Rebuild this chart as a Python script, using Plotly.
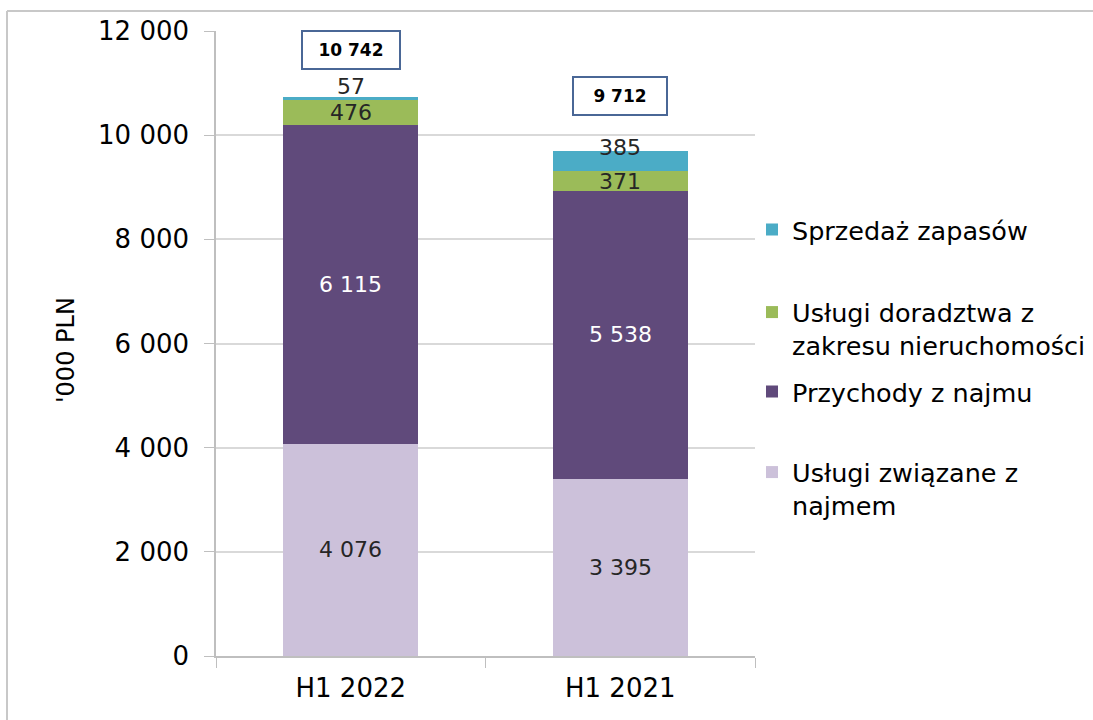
import plotly.graph_objects as go
import numpy as np

categories = ["H1 2022", "H1 2021"]
series_names = [
    "Usługi związane z<br>najmem",
    "Przychody z najmu",
    "Usługi doradztwa z<br>zakresu nieruchomości",
    "Sprzedaż zapasów",
]
uslugi_zwiazane = [4076, 3395]
przychody_najmu = [6115, 5538]
uslugi_doradztwa = [476, 371]
sprzedaz_zapasow = [57, 385]
totals = [10742, 9712]
total_labels = ["10 742", "9 712"]
tick_vals = [0, 2000, 4000, 6000, 8000, 10000, 12000]
tick_labels = ["0", "2 000", "4 000", "6 000", "8 000", "10 000", "12 000"]

series_values = [uslugi_zwiazane, przychody_najmu, uslugi_doradztwa, sprzedaz_zapasow]
colors = ["#ccc1da", "#604a7b", "#9bbb59", "#4bacc6"]
label_colors = ["#262626", "#ffffff", "#262626", "#262626"]
FONT = "DejaVu Sans"

W, H = 1093, 720
L, R, T, B = 216, 1093 - 755, 31, 64
plot_h = H - T - B
plot_w = W - L - R

def fmt(v):
    return f"{v:,}".replace(",", " ")

fig = go.Figure()
legend_names = ["legend4", "legend3", "legend2", "legend"]
for name, vals, col, lg in zip(series_names, series_values, colors, legend_names):
    fig.add_trace(go.Bar(
        x=categories, y=vals, name=name, marker=dict(color=col, line=dict(width=0)),
        legend=lg, hoverinfo="x+y+name",
    ))

annotations = []
cum = np.zeros(len(categories))
for si, vals in enumerate(series_values):
    for ci, v in enumerate(vals):
        bottom = cum[ci]
        top = bottom + v
        if v >= 300 and not (si == 3):
            y, shift = (bottom + top) / 2, 0
        elif si == 3 and v >= 300:
            y, shift = top, 4
        else:
            y, shift = top, 11
        annotations.append(dict(
            x=categories[ci], y=y, yshift=shift, text=fmt(v), showarrow=False,
            xref="x", yref="y", yanchor="middle",
            font=dict(family=FONT, size=22, color=label_colors[si]),
        ))
    cum = cum + np.array(vals)

box_shift = [47, 55]
box_w = [96, 92]
for ci in range(len(categories)):
    annotations.append(dict(
        x=categories[ci], y=cum[ci], yshift=box_shift[ci], text=f"<b>{total_labels[ci]}</b>",
        showarrow=False, xref="x", yref="y", yanchor="middle",
        font=dict(family=FONT, size=17, color="#000000"),
        bordercolor="#4a6796", borderwidth=2, borderpad=0, bgcolor="#ffffff",
        width=box_w[ci], height=36,
    ))

annotations.append(dict(
    x=(50 - L) / plot_w, y=(H - B - 350) / plot_h, xref="paper", yref="paper",
    text="'000 PLN", textangle=-90, showarrow=False,
    font=dict(family=FONT, size=24, color="#000000"),
))

def py(px):
    return (H - B - px) / plot_h

def pxx(px):
    return (px - L) / plot_w

leg_common = dict(x=pxx(752), xanchor="left", yanchor="middle", bgcolor="rgba(0,0,0,0)",
                  font=dict(family=FONT, size=25.5, color="#000000"), valign="top",
                  itemclick=False, itemdoubleclick=False)
layout_legends = {
    "legend": dict(y=py(230), **leg_common),
    "legend2": dict(y=py(329), **leg_common),
    "legend3": dict(y=py(392), **leg_common),
    "legend4": dict(y=py(489), **leg_common),
}

shapes = [
    dict(type="line", xref="paper", yref="paper", x0=pxx(7), x1=pxx(1100), y0=py(11), y1=py(11),
         line=dict(color="#c8c8c8", width=2)),
    dict(type="line", xref="paper", yref="paper", x0=pxx(7), x1=pxx(7), y0=py(11), y1=py(730),
         line=dict(color="#c8c8c8", width=2)),
]

fig.update_layout(
    width=W, height=H, barmode="stack", bargap=0.5,
    margin=dict(l=L, r=R, t=T, b=B, pad=0, autoexpand=False),
    paper_bgcolor="#ffffff", plot_bgcolor="#ffffff",
    font=dict(family=FONT, color="#000000"),
    annotations=annotations, shapes=shapes,
    showlegend=True,
    **layout_legends,
)
fig.update_xaxes(
    showline=True, linecolor="#bfbfbf", linewidth=1.5, ticks="outside", tickson="boundaries",
    ticklen=10, tickcolor="#bfbfbf", tickfont=dict(family=FONT, size=26, color="#000000"),
    showgrid=False, ticklabelstandoff=8,
)
fig.update_yaxes(
    range=[0, 12000], tickvals=tick_vals, ticktext=tick_labels,
    showline=True, linecolor="#bfbfbf", linewidth=1.5, ticks="outside", ticklen=10,
    tickcolor="#bfbfbf", gridcolor="#d9d9d9", gridwidth=1.5,
    tickfont=dict(family=FONT, size=26, color="#000000"), ticklabelstandoff=10,
    zeroline=False,
)

fig.write_html("out.html")
